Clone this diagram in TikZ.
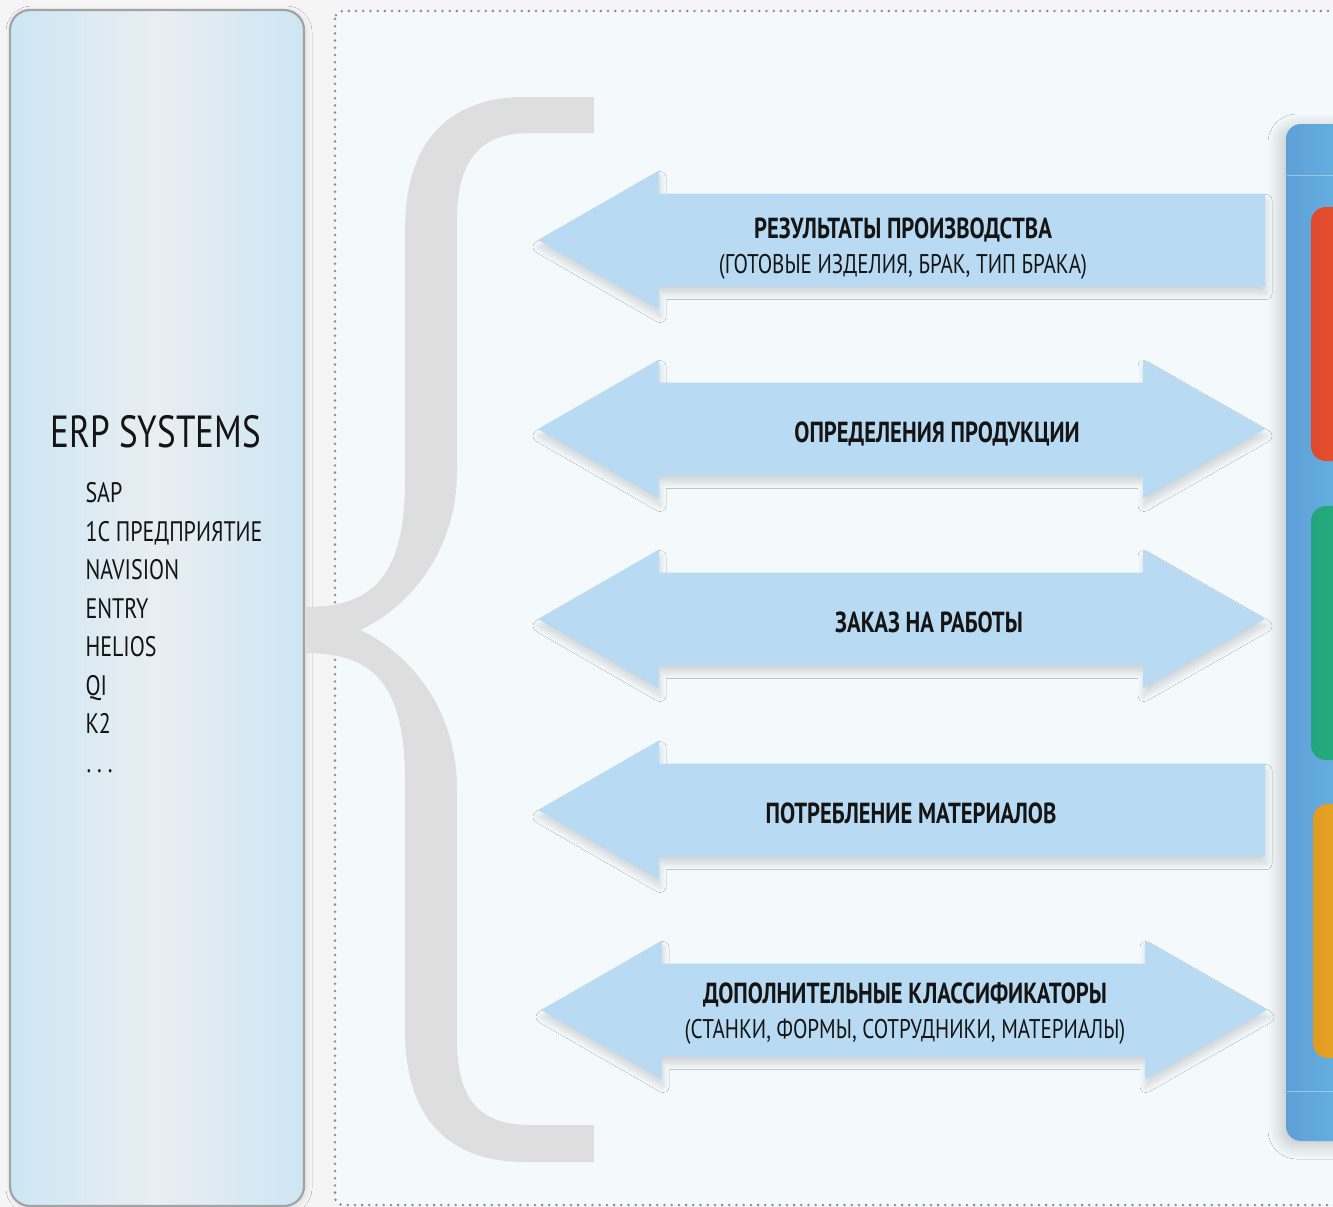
\documentclass[tikz,border=0pt]{standalone}
\usepackage{fontspec}
\setmainfont{PT Sans}[FakeStretch=0.78]
\usetikzlibrary{shadows.blur}
\definecolor{bgout}{HTML}{F5F5F5}
\definecolor{framein}{HTML}{F4F9FC}
\definecolor{framedot}{HTML}{8E8E8E}
\definecolor{panelborder}{HTML}{A3A3A3}
\definecolor{panelside}{HTML}{CDE6F3}
\definecolor{panelmid}{HTML}{E9EEF2}
\definecolor{bracegray}{HTML}{DEDEDE}
\definecolor{arrowblue}{HTML}{B8DBF3}
\definecolor{txt}{HTML}{141414}
\definecolor{blueL}{HTML}{5E9FD8}
\definecolor{blueR}{HTML}{6BBCE6}
\definecolor{redL}{HTML}{E0482D}
\definecolor{redR}{HTML}{F25C33}
\definecolor{greenL}{HTML}{22A57A}
\definecolor{greenR}{HTML}{2DB684}
\definecolor{orangeL}{HTML}{E39A22}
\definecolor{orangeR}{HTML}{E8B52B}
\tikzset{
  arrowshape/.style={fill=arrowblue, blur shadow={shadow xshift=1pt, shadow yshift=-7pt, shadow blur radius=6pt, shadow blur steps=12, shadow opacity=14}},
  titletext/.style={anchor=base, text=txt, font=\fontsize{29}{29}\selectfont\bfseries},
  subtext/.style={anchor=base, text=txt, font=\fontsize{27}{27}\selectfont},
  listtext/.style={anchor=base west, text=txt, font=\fontsize{28.2}{28.2}\selectfont},
}
\newcommand{\leftarrowshape}[1]{%
  \fill[arrowshape] (1265,#1-46.5) -- (659,#1-46.5) -- (659,#1-69.5) -- (538,#1) -- (659,#1+69.5) -- (659,#1+46.5) -- (1265,#1+46.5) -- cycle;}
\newcommand{\dblarrowshape}[3]{%
  \fill[arrowshape] (#2,#1) -- (#2+121,#1-69.5) -- (#2+121,#1-46.5) -- (#3-122,#1-46.5) -- (#3-122,#1-69.5) -- (#3,#1) -- (#3-122,#1+69.5) -- (#3-122,#1+46.5) -- (#2+121,#1+46.5) -- (#2+121,#1+69.5) -- cycle;}
\begin{document}
\begin{tikzpicture}[x=1pt,y=-1pt]
\useasboundingbox (0,0) rectangle (1333,1207);
\fill[bgout] (0,0) rectangle (1333,1207);
% dotted frame
\fill[framein, rounded corners=8pt] (335,11) rectangle (1400,1205);
\draw[framedot, line width=2.8pt, line cap=round, dash pattern=on 0pt off 7.2pt, rounded corners=8pt] (335,11) rectangle (1400,1205);
% left panel
\path[draw=panelborder, line width=2.2pt, rounded corners=20pt, left color=panelside, right color=panelside, middle color=panelmid,
  blur shadow={shadow xshift=2pt, shadow yshift=-2pt, shadow blur radius=6pt, shadow opacity=10}] (10,10) rectangle (304,1206);
\node[anchor=base west, text=txt, font=\fontsize{45}{45}\selectfont] (erp) at (47,447) {ERP SYSTEMS};
\node[listtext] (sap) at (82,502) {SAP};
\node[listtext] (onec) at (82,541) {1С ПРЕДПРИЯТИЕ};
\node[listtext] (nav) at (82,579) {NAVISION};
\node[listtext] (entry) at (82,618) {ENTRY};
\node[listtext] (helios) at (82,656) {HELIOS};
\node[listtext] (qi) at (82,695) {QI};
\node[listtext] (ktwo) at (82,733) {K2};
\node[listtext] (dots) at (83,772) {.\hspace{6pt}.\hspace{6pt}.};
% brace
\fill[bracegray] (594,97) -- (525,97)
  .. controls (450,97) and (405,140) .. (405,230)
  -- (405,480)
  .. controls (405,580) and (370,607) .. (305,607)
  -- (305,653)
  .. controls (370,653) and (405,680) .. (405,780)
  -- (405,1030)
  .. controls (405,1120) and (450,1162) .. (525,1162)
  -- (594,1162) -- (594,1125) -- (530,1125)
  .. controls (480,1125) and (457,1100) .. (457,1040)
  -- (457,790)
  .. controls (457,700) and (400,648) .. (360,630)
  .. controls (400,612) and (457,560) .. (457,470)
  -- (457,220)
  .. controls (457,160) and (480,133) .. (530,133)
  -- (594,133) -- cycle;
% arrows
\leftarrowshape{240}
\dblarrowshape{429}{538}{1265}
\dblarrowshape{619}{538}{1265}
\leftarrowshape{810}
\dblarrowshape{1010}{541}{1267}
\node[titletext] (t1) at (903,238) {РЕЗУЛЬТАТЫ ПРОИЗВОДСТВА};
\node[subtext] (s1) at (903,273.5) {(ГОТОВЫЕ ИЗДЕЛИЯ, БРАК, ТИП БРАКА)};
\node[titletext] (t2) at (937,442) {ОПРЕДЕЛЕНИЯ ПРОДУКЦИИ};
\node[titletext] (t3) at (929,632) {ЗАКАЗ НА РАБОТЫ};
\node[titletext] (t4) at (911,823) {ПОТРЕБЛЕНИЕ МАТЕРИАЛОВ};
\node[titletext] (t5) at (905,1003) {ДОПОЛНИТЕЛЬНЫЕ КЛАССИФИКАТОРЫ};
\node[subtext] (s5) at (905,1038.5) {(СТАНКИ, ФОРМЫ, СОТРУДНИКИ, МАТЕРИАЛЫ)};
% right panel
\path[left color=blueL, right color=blueR, rounded corners=15pt,
  blur shadow={shadow xshift=-4pt, shadow yshift=-4pt, shadow blur radius=14pt, shadow blur steps=14, shadow opacity=22}] (1286,124) rectangle (1380,1141);
\draw[white, opacity=0.35, line width=1pt] (1287,175) -- (1333,175);
\draw[white, opacity=0.35, line width=1pt] (1287,1091) -- (1333,1091);
\path[left color=redL, right color=redR, rounded corners=15pt] (1311,207) rectangle (1380,461);
\path[left color=greenL, right color=greenR, rounded corners=15pt] (1311,506) rectangle (1380,760);
\path[left color=orangeL, right color=orangeR, rounded corners=15pt] (1313,804) rectangle (1380,1058);
\end{tikzpicture}
\end{document}
